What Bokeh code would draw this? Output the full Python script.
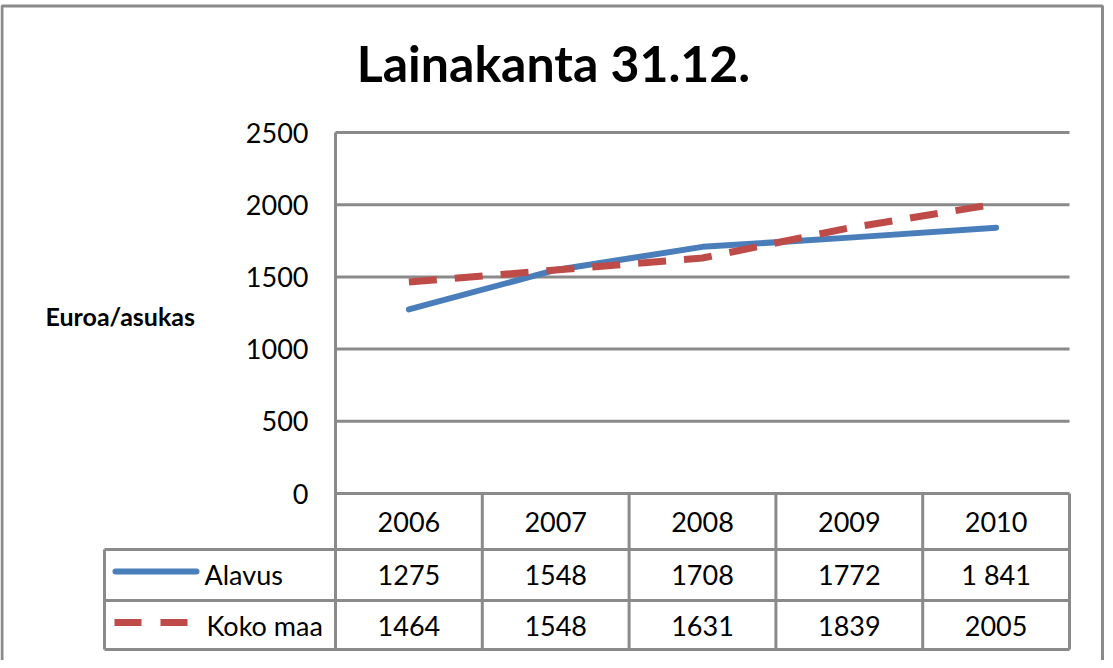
from bokeh.plotting import figure
from bokeh.models import Range1d
from bokeh.core.properties import value
from bokeh.embed import file_html
from bokeh.resources import INLINE

# ---- data ----
years = ["2006", "2007", "2008", "2009", "2010"]
alavus = [1275, 1548, 1708, 1772, 1841]
koko_maa = [1464, 1548, 1631, 1839, 2005]
alavus_labels = ["1275", "1548", "1708", "1772", "1 841"]
koko_maa_labels = ["1464", "1548", "1631", "1839", "2005"]
series_names = ["Alavus", "Koko maa"]
y_ticks = [0, 500, 1000, 1500, 2000, 2500]
title_text = "Lainakanta 31.12."
y_label = "Euroa/asukas"

# ---- layout (page pixels) ----
W, H = 1105, 660
OFF = 8
PL, PR = 343, 1077      # plot area left / right
PT, PB = 140, 501       # top tick / zero line
CW = (PR - PL) / len(years)
PPU = (PB - PT) / max(y_ticks)
XS = -0.5 - (PL - OFF) / CW
XE = XS + W / CW
YE = max(y_ticks) + (PT - OFF) / PPU
YS = YE - H / PPU


def X(px):
    return XS + (px - OFF) / CW


def Y(py):
    return YE - (py - OFF) / PPU


GRAY = "#8a8a8a"
BLUE = "#4a7ebb"
RED = "#be4b48"
FONT = value("Lato")

p = figure(width=W, height=H, x_range=Range1d(XS, XE), y_range=Range1d(YS, YE),
           output_backend="svg", toolbar_location=None, min_border=0,
           x_axis_location=None, y_axis_location=None, outline_line_color=None,
           background_fill_color="white", border_fill_color="white")
p.grid.visible = False

n = len(years)
xs = list(range(n))
left_edge = -0.5
right_edge = n - 0.5

# outer border (bottom is outside the view)
p.line([X(9.5), X(9.5), X(1110), X(1110)], [Y(700), Y(13.5), Y(13.5), Y(700)],
       line_color=GRAY, line_width=3)

# horizontal grid lines at y ticks
p.segment(x0=[left_edge] * len(y_ticks), y0=y_ticks, x1=[right_edge] * len(y_ticks), y1=y_ticks,
          line_color=GRAY, line_width=3)

# y tick labels
p.text(x=[X(316)] * len(y_ticks), y=y_ticks, text=[str(t) for t in y_ticks],
       text_font=FONT, text_font_size="27px", text_align="right", text_baseline="middle",
       text_color="black")

# data table grid
row_lines = [557, 608, 657]
legend_left = 112
p.segment(x0=[X(legend_left)] * len(row_lines), y0=[Y(r) for r in row_lines],
          x1=[right_edge] * len(row_lines), y1=[Y(r) for r in row_lines],
          line_color=GRAY, line_width=3)
# plot left edge + table column lines
p.segment(x0=[left_edge], y0=[max(y_ticks)], x1=[left_edge], y1=[Y(657)],
          line_color=GRAY, line_width=3)
col_bounds = [i + 0.5 for i in range(n)]
p.segment(x0=col_bounds, y0=[0] * n, x1=col_bounds, y1=[Y(657)] * n,
          line_color=GRAY, line_width=3)
p.segment(x0=[X(legend_left)], y0=[Y(557)], x1=[X(legend_left)], y1=[Y(657)],
          line_color=GRAY, line_width=3)

# table texts
hdr_y = Y(529)
row_ys = [Y(582), Y(633)]
p.text(x=xs, y=[hdr_y] * n, text=years, text_font=FONT, text_font_size="27px",
       text_align="center", text_baseline="middle", text_color="black")
p.text(x=xs, y=[row_ys[0]] * n, text=alavus_labels, text_font=FONT, text_font_size="27px",
       text_align="center", text_baseline="middle", text_color="black")
p.text(x=xs, y=[row_ys[1]] * n, text=koko_maa_labels, text_font=FONT, text_font_size="27px",
       text_align="center", text_baseline="middle", text_color="black")

# legend keys in table
p.line([X(123), X(204)], [Y(579), Y(579)], line_color=BLUE, line_width=6, line_cap="round")
p.line([X(122), X(198)], [Y(630), Y(630)], line_color=RED, line_width=7, line_dash="27 19")
p.text(x=[X(212), X(214)], y=row_ys, text=series_names, text_font=FONT, text_font_size="27px",
       text_align="left", text_baseline="middle", text_color="black")

# series lines
p.line(xs, alavus, line_color=BLUE, line_width=6, line_cap="round", line_join="round")
p.line(xs, koko_maa, line_color=RED, line_width=7, line_dash="28 18", line_join="round")

# title and y label
p.text(x=[X(561)], y=[Y(70)], text=[title_text], text_font=FONT, text_font_size="50px",
       text_font_style="bold", text_align="center", text_baseline="middle", text_color="black")
p.text(x=[X(53)], y=[Y(323)], text=[y_label], text_font=FONT, text_font_size="25px",
       text_font_style="bold", text_align="left", text_baseline="middle", text_color="black")

open("out.html", "w").write(file_html(p, INLINE))
